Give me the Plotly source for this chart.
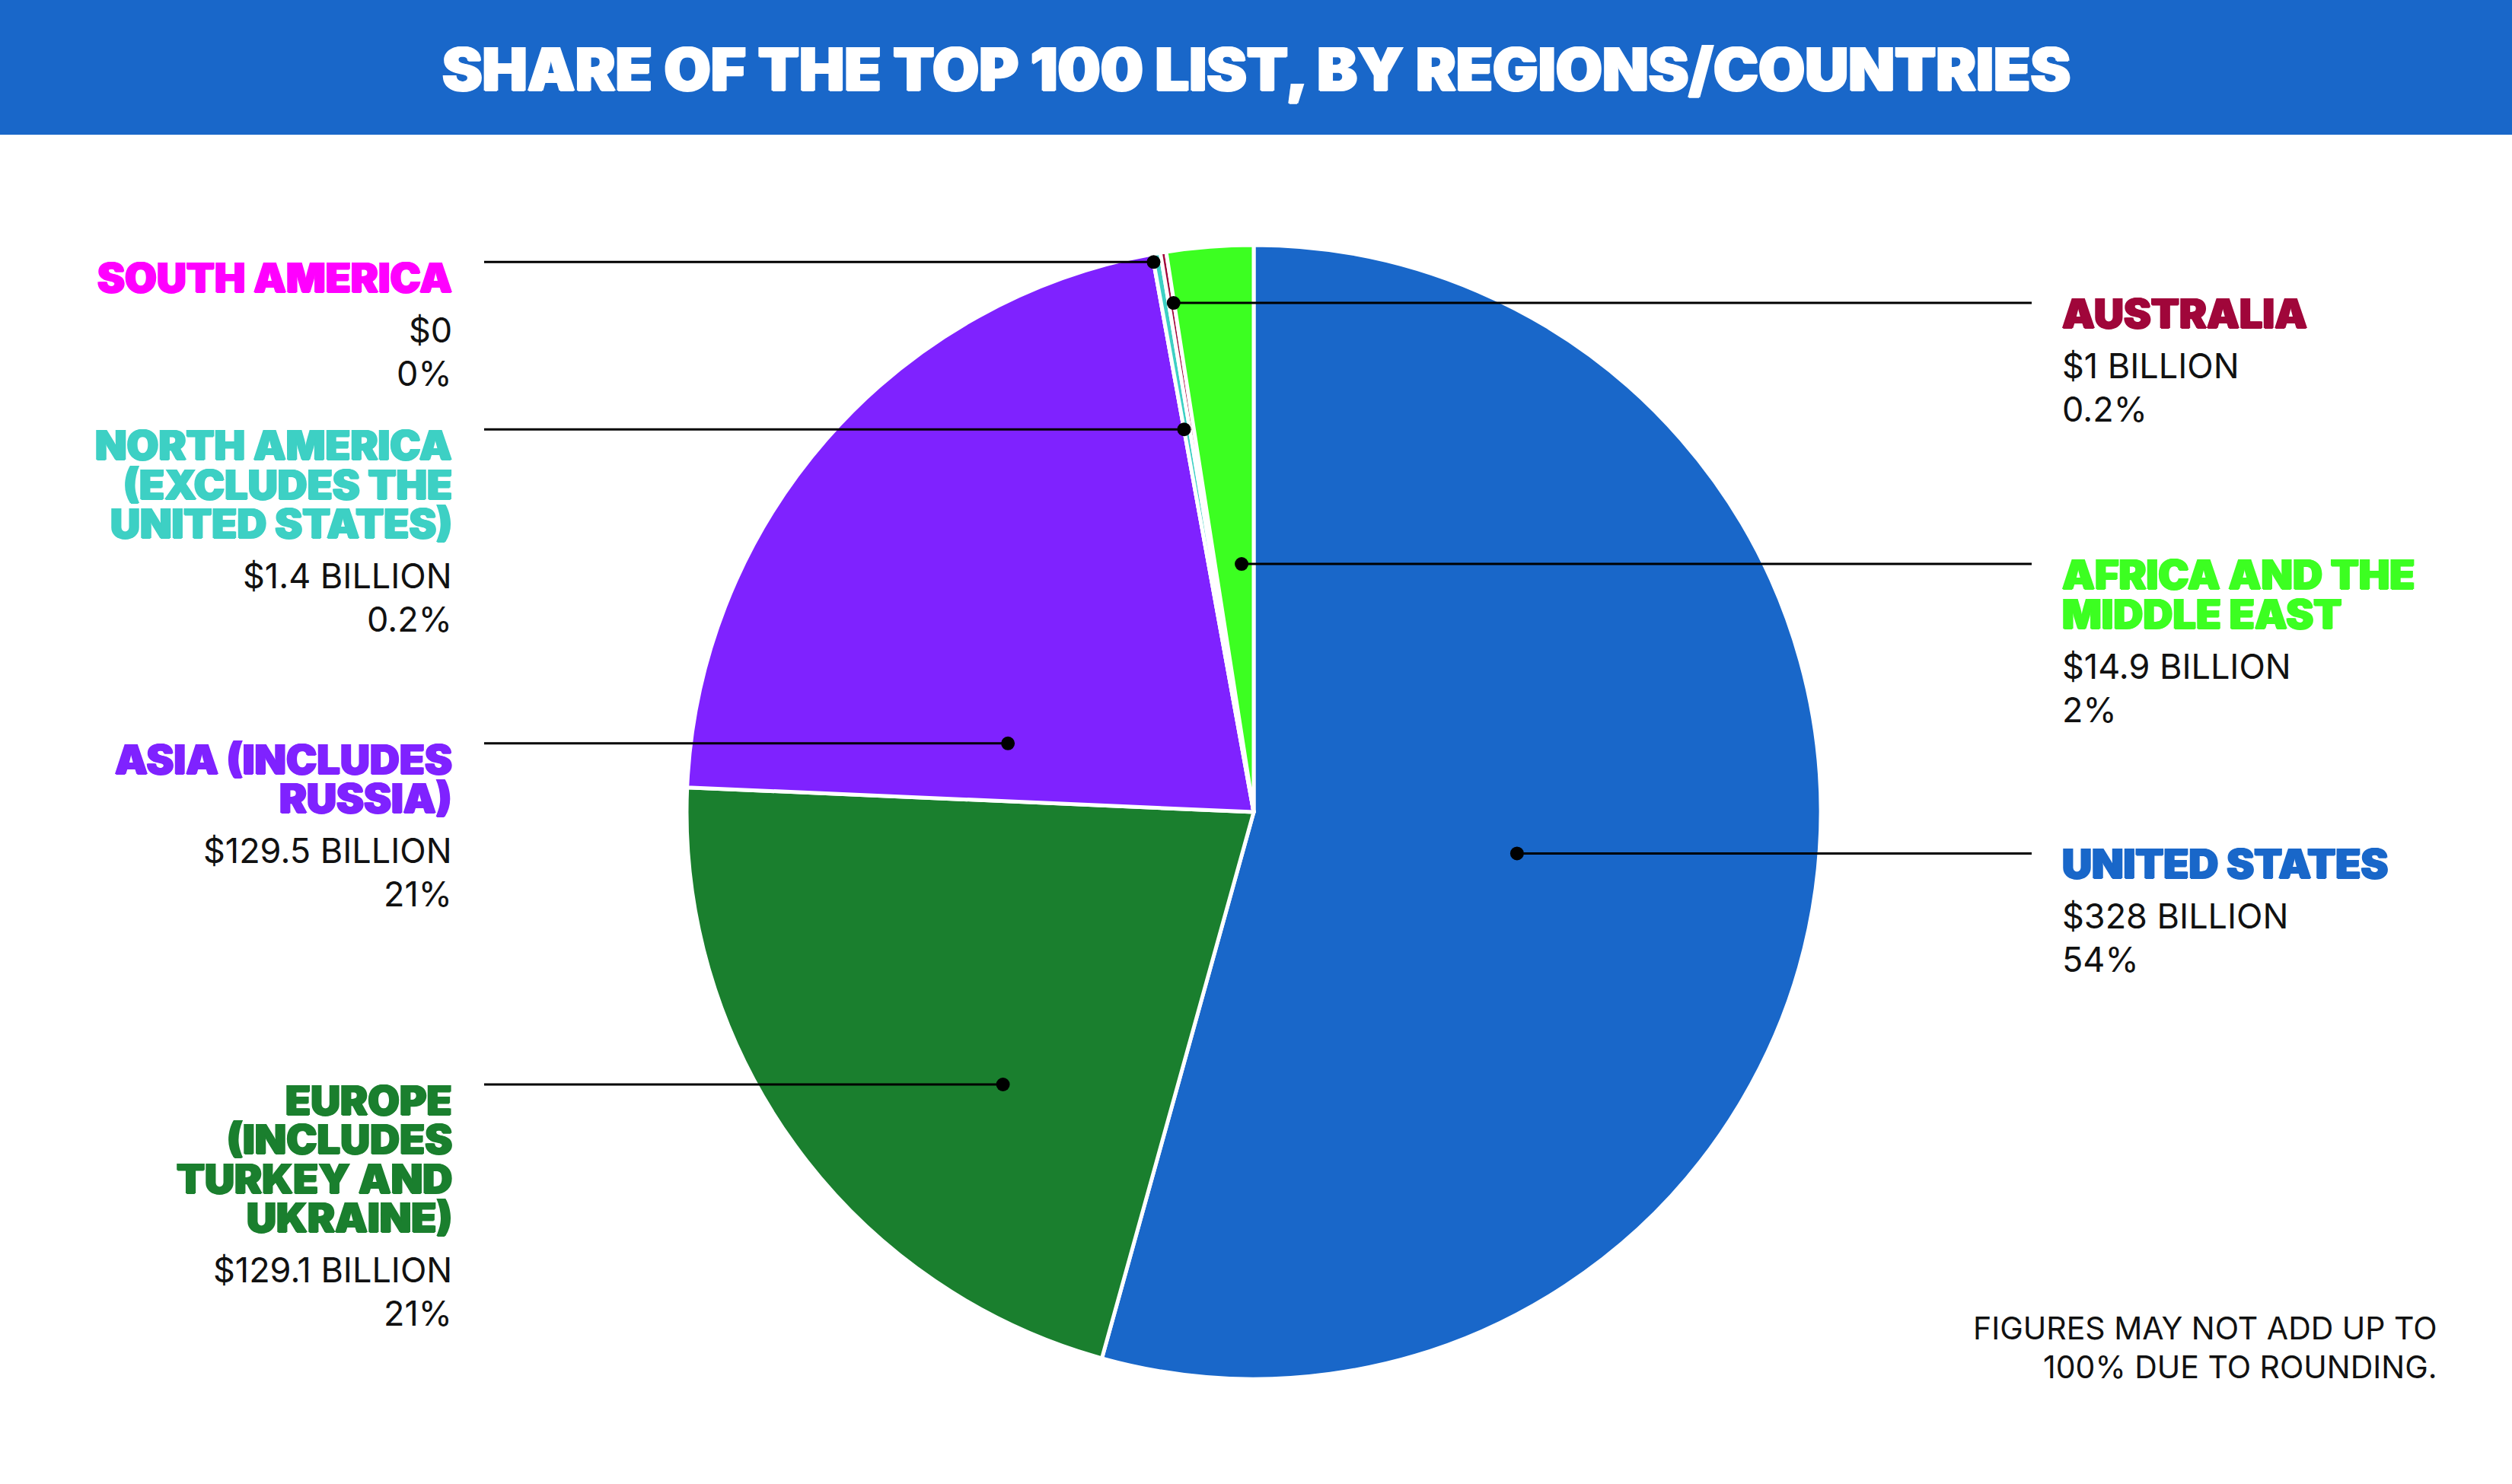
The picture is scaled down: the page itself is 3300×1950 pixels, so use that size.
import math
import plotly.graph_objects as go

# data (billions of dollars), in clockwise order from 12 o'clock
regions = ["UNITED STATES", "EUROPE", "ASIA", "SOUTH AMERICA",
           "NORTH AMERICA", "AUSTRALIA", "AFRICA AND THE MIDDLE EAST"]
amounts_bn = [328, 129.1, 129.5, 0, 1.4, 1, 14.9]
amount_text = ["$328 BILLION", "$129.1 BILLION", "$129.5 BILLION", "$0",
               "$1.4 BILLION", "$1 BILLION", "$14.9 BILLION"]
share_text = ["54%", "21%", "21%", "0%", "0.2%", "0.2%", "2%"]
label_lines = [
    ["UNITED STATES"],
    ["EUROPE", "(INCLUDES", "TURKEY AND", "UKRAINE)"],
    ["ASIA (INCLUDES", "RUSSIA)"],
    ["SOUTH AMERICA"],
    ["NORTH AMERICA", "(EXCLUDES THE", "UNITED STATES)"],
    ["AUSTRALIA"],
    ["AFRICA AND THE", "MIDDLE EAST"],
]
title = "SHARE OF THE TOP 100 LIST, BY REGIONS/COUNTRIES"
note = ["FIGURES MAY NOT ADD UP TO", "100% DUE TO ROUNDING."]

# styles
slice_colors = ["#1967C9", "#1A7F2E", "#7F22FF", "#FF00FF", "#3DD0C4", "#A0063A", "#3CFF21"]
# side of the label, position of the dot inside the slice (0..1) and radius fraction
anchors = [("right", 0.506, 0.47), ("left", 0.352, 0.653), ("left", 0.17, 0.45),
           ("left", 0.0, 0.986), ("left", 0.0, 0.686), ("right", 0.9, 0.909),
           ("right", 0.685, 0.438)]

W, H = 3300, 1950
CX, CY, R = 1647, 1067, 745
BAND_H = 177
LEFT_TEXT_X, LEFT_LINE_X = 596, 636
RIGHT_TEXT_X, RIGHT_LINE_X = 2707, 2669
HEAD_FONT = "Inter"


def heavy(color, px=1.2):
    # fake an extra-black weight by smearing the glyphs sideways a touch
    return f"{px}px 0 0 {color}, -{px}px 0 0 {color}, 0 0.6px 0 {color}"


fig = go.Figure()
fig.add_trace(go.Pie(
    labels=regions, values=amounts_bn, sort=False, direction="clockwise", rotation=0,
    marker=dict(colors=slice_colors, line=dict(color="white", width=5)),
    textinfo="none", hoverinfo="label+value", showlegend=False,
    domain=dict(x=[(CX - R) / W, (CX + R) / W],
                y=[(H - CY - R) / H, (H - CY + R) / H]),
))
# invisible trace so the pixel-scaled axes exist for shapes/annotations
fig.add_trace(go.Scatter(x=[None], y=[None], showlegend=False, hoverinfo="skip"))

# title band
fig.add_shape(type="rect", xref="paper", yref="paper", x0=0, x1=1,
              y0=1 - BAND_H / H, y1=1, fillcolor="#1967C9", line_width=0, layer="below")
fig.add_annotation(x=W / 2, y=89.5, xref="x", yref="y", text=title, showarrow=False,
                   xanchor="center", yanchor="middle",
                   font=dict(family=HEAD_FONT, size=79, color="white", weight=900,
                             shadow=heavy("white", 1.5)))

total = sum(amounts_bn)
cum = 0
for i, v in enumerate(amounts_bn):
    a0 = 360 * cum / total
    a1 = 360 * (cum + v) / total
    cum += v
    side, frac, rf = anchors[i]
    theta = math.radians(a0 + frac * (a1 - a0))
    dx = CX + rf * R * math.sin(theta)
    dy = CY - rf * R * math.cos(theta)

    # leader line and dot
    lx = LEFT_LINE_X if side == "left" else RIGHT_LINE_X
    fig.add_shape(type="line", xref="x", yref="y", x0=lx, x1=dx, y0=dy, y1=dy,
                  line=dict(color="black", width=3), layer="above")
    fig.add_shape(type="circle", xref="x", yref="y", x0=dx - 9, x1=dx + 9,
                  y0=dy - 9, y1=dy + 9, fillcolor="black", line_width=0, layer="above")

    tx = LEFT_TEXT_X if side == "left" else RIGHT_TEXT_X
    xanchor = "right" if side == "left" else "left"
    cap_top = dy + (1 if side == "left" else -6)
    for j, line in enumerate(label_lines[i]):
        fig.add_annotation(x=tx, y=cap_top + j * 51.5 + 19.5, xref="x", yref="y",
                           text=line, showarrow=False, xanchor=xanchor, yanchor="middle",
                           font=dict(family=HEAD_FONT, size=54, color=slice_colors[i],
                                     weight=900, shadow=heavy(slice_colors[i])))
    val_top = cap_top + (len(label_lines[i]) - 1) * 51.5 + 72
    for j, line in enumerate([amount_text[i], share_text[i]]):
        fig.add_annotation(x=tx, y=val_top + j * 57 + 16.5, xref="x", yref="y",
                           text=line, showarrow=False, xanchor=xanchor, yanchor="middle",
                           font=dict(family="Inter", size=45, color="#111111"))

for j, line in enumerate(note):
    fig.add_annotation(x=3204, y=1745 + j * 51, xref="x", yref="y", text=line,
                       showarrow=False, xanchor="right", yanchor="middle",
                       font=dict(family="Inter", size=41, color="#111111"))

fig.update_layout(
    width=W, height=H, margin=dict(l=0, r=0, t=0, b=0),
    paper_bgcolor="white", plot_bgcolor="rgba(0,0,0,0)",
    xaxis=dict(range=[0, W], visible=False, fixedrange=True),
    yaxis=dict(range=[H, 0], visible=False, fixedrange=True),
)

# drop the browser's default body margin so the band runs edge to edge
fig.write_html("out.html", config={"displayModeBar": False},
               post_script="document.body.style.margin='0';")
